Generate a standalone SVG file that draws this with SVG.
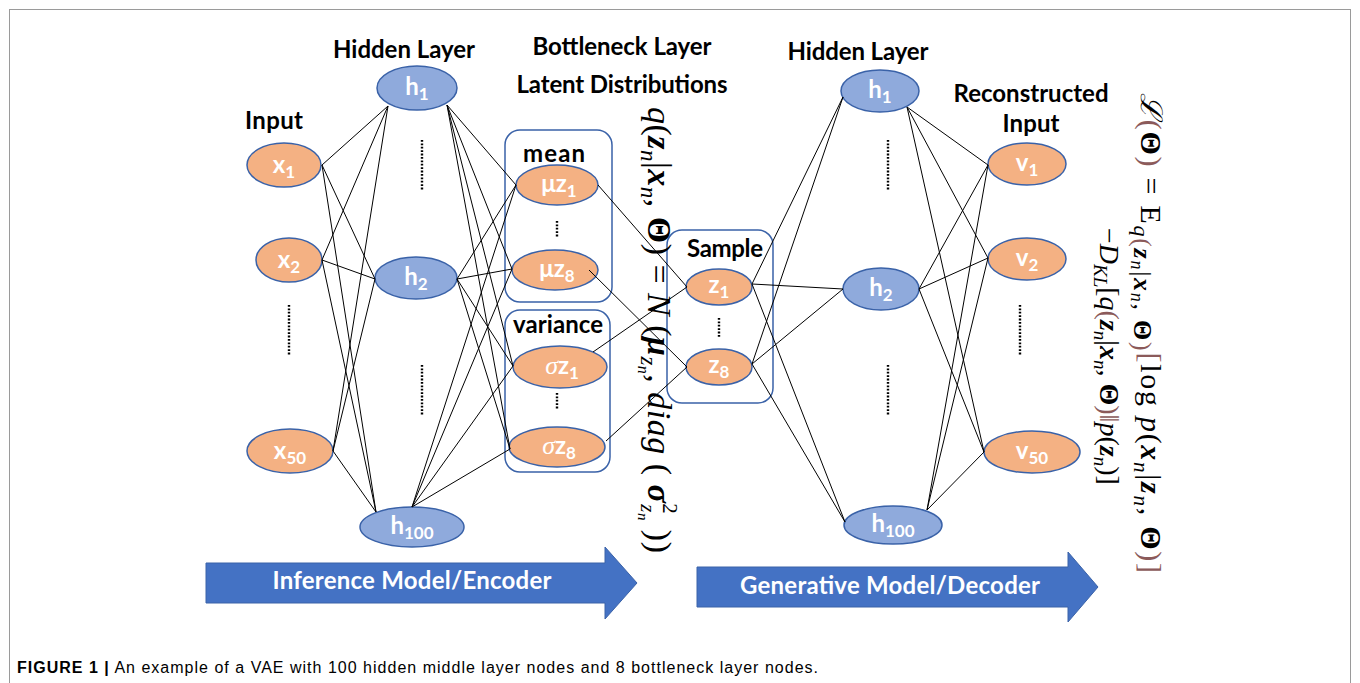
<svg xmlns="http://www.w3.org/2000/svg" width="1360" height="683" viewBox="0 0 1360 683">
<style>
.on{fill:#F4B183;stroke:#3A62A8;stroke-width:1.5}
.bn{fill:#8FAADC;stroke:#3A62A8;stroke-width:1.5}
.lbl{font-family:Lato,'Liberation Sans',sans-serif;font-weight:700;font-size:24px;fill:#fff;text-anchor:middle}
.sub{font-size:17px}
.ttl{font-family:Lato,'Liberation Sans',sans-serif;font-weight:700;font-size:24px;fill:#000;text-anchor:middle}
.box{fill:none;stroke:#3A62A8;stroke-width:1.5}
.dots{stroke:#000;stroke-width:2.4;stroke-dasharray:1.8 1.6;fill:none}
.conn line{stroke:#000;stroke-width:1}
.math{font-family:'Liberation Serif','DejaVu Serif',serif;fill:#000}
.br{fill:#8B5A5A}
.b{font-weight:bold}
.i{font-style:italic}
.arrow{fill:#4472C4;stroke:#3A62A8;stroke-width:1}
.atxt{font-family:Lato,'Liberation Sans',sans-serif;font-weight:700;font-size:24px;fill:#fff;text-anchor:middle}
</style>
<rect x="0" y="0" width="1360" height="683" fill="#fff"/>
<rect x="9.5" y="9.5" width="1341" height="690" fill="none" stroke="#9a9a9a" stroke-width="1"/>

<!-- titles -->
<text class="ttl" x="404" y="58" textLength="142">Hidden Layer</text>
<text class="ttl" x="622" y="55" textLength="179">Bottleneck Layer</text>
<text class="ttl" x="622" y="93" textLength="211">Latent Distributions</text>
<text class="ttl" x="274" y="129" textLength="58">Input</text>
<text class="ttl" x="858" y="60" textLength="141">Hidden Layer</text>
<text class="ttl" x="1031" y="102" textLength="155">Reconstructed</text>
<text class="ttl" x="1031" y="132" textLength="57">Input</text>

<!-- boxes -->
<g id="mean-box">
<rect class="box" x="505" y="130" width="107" height="172" rx="15"/>
<text class="ttl" x="554" y="162" textLength="62">mean</text>
<line class="dots" x1="557" y1="221" x2="557" y2="238"/>
</g>
<g id="variance-box">
<rect class="box" x="505" y="310" width="105" height="162" rx="15"/>
<text class="ttl" x="558" y="333" textLength="90">variance</text>
<line class="dots" x1="557" y1="393" x2="557" y2="410"/>
</g>
<g id="sample-box">
<rect class="box" x="667" y="230" width="106" height="173" rx="15"/>
<text class="ttl" x="725" y="257" textLength="76">Sample</text>
<line class="dots" x1="719" y1="318" x2="719" y2="337"/>
</g>

<!-- dotted column markers -->
<g id="ellipsis-markers">
<line class="dots" x1="289" y1="305" x2="289" y2="355"/>
<line class="dots" x1="422" y1="140" x2="422" y2="190"/>
<line class="dots" x1="422" y1="365" x2="422" y2="415"/>
<line class="dots" x1="888" y1="140" x2="888" y2="190"/>
<line class="dots" x1="888" y1="365" x2="888" y2="415"/>
<line class="dots" x1="1020" y1="305" x2="1020" y2="355"/>
</g>

<!-- nodes -->
<g id="x1"><ellipse class="on" cx="284" cy="165" rx="37" ry="22"/><text class="lbl" x="284" y="173">x<tspan class="sub" dy="5">1</tspan></text></g>
<g id="x2"><ellipse class="on" cx="289" cy="260" rx="33" ry="22"/><text class="lbl" x="289" y="268">x<tspan class="sub" dy="5">2</tspan></text></g>
<g id="x50"><ellipse class="on" cx="290" cy="451" rx="43" ry="22"/><text class="lbl" x="290" y="459">x<tspan class="sub" dy="5">50</tspan></text></g>

<g id="h1-enc"><ellipse class="bn" cx="417" cy="88" rx="40" ry="22"/><text class="lbl" x="417" y="95">h<tspan class="sub" dy="5">1</tspan></text></g>
<g id="h2-enc"><ellipse class="bn" cx="416" cy="278" rx="41" ry="21"/><text class="lbl" x="416" y="285">h<tspan class="sub" dy="5">2</tspan></text></g>
<g id="h100-enc"><ellipse class="bn" cx="412" cy="527" rx="52" ry="20"/><text class="lbl" x="412" y="534">h<tspan class="sub" dy="5">100</tspan></text></g>

<g id="mu-z1"><ellipse class="on" cx="557" cy="185" rx="41" ry="20"/><text class="lbl" x="559" y="192">μz<tspan class="sub" dy="5">1</tspan></text></g>
<g id="mu-z8"><ellipse class="on" cx="555" cy="270" rx="43" ry="20"/><text class="lbl" x="557" y="277">μz<tspan class="sub" dy="5">8</tspan></text></g>
<g id="sigma-z1"><ellipse class="on" cx="560" cy="367" rx="47" ry="21"/><text class="lbl" x="562" y="374"><tspan font-family="'Liberation Serif',serif" font-style="italic" font-weight="400" font-size="26">σ</tspan>z<tspan class="sub" dy="5">1</tspan></text></g>
<g id="sigma-z8"><ellipse class="on" cx="557" cy="447" rx="48" ry="20"/><text class="lbl" x="559" y="454"><tspan font-family="'Liberation Serif',serif" font-style="italic" font-weight="400" font-size="26">σ</tspan>z<tspan class="sub" dy="5">8</tspan></text></g>

<g id="z1"><ellipse class="on" cx="719" cy="287" rx="33" ry="18"/><text class="lbl" x="719" y="293">z<tspan class="sub" dy="5">1</tspan></text></g>
<g id="z8"><ellipse class="on" cx="719" cy="367" rx="33" ry="18"/><text class="lbl" x="719" y="373">z<tspan class="sub" dy="5">8</tspan></text></g>

<g id="h1-dec"><ellipse class="bn" cx="880" cy="91" rx="39" ry="21"/><text class="lbl" x="880" y="98">h<tspan class="sub" dy="5">1</tspan></text></g>
<g id="h2-dec"><ellipse class="bn" cx="881" cy="289" rx="38" ry="21"/><text class="lbl" x="881" y="296">h<tspan class="sub" dy="5">2</tspan></text></g>
<g id="h100-dec"><ellipse class="bn" cx="893" cy="525" rx="49" ry="19"/><text class="lbl" x="893" y="532">h<tspan class="sub" dy="5">100</tspan></text></g>

<g id="v1"><ellipse class="on" cx="1027" cy="164" rx="39" ry="21"/><text class="lbl" x="1027" y="171">v<tspan class="sub" dy="5">1</tspan></text></g>
<g id="v2"><ellipse class="on" cx="1027" cy="259" rx="39" ry="21"/><text class="lbl" x="1027" y="266">v<tspan class="sub" dy="5">2</tspan></text></g>
<g id="v50"><ellipse class="on" cx="1032" cy="452" rx="48" ry="21"/><text class="lbl" x="1032" y="459">v<tspan class="sub" dy="5">50</tspan></text></g>

<!-- connectors -->
<g id="connectors" class="conn">
<line x1="322" y1="165" x2="388" y2="106"/>
<line x1="322" y1="165" x2="375" y2="279"/>
<line x1="322" y1="165" x2="376" y2="512"/>
<line x1="322" y1="260" x2="388" y2="106"/>
<line x1="322" y1="260" x2="375" y2="279"/>
<line x1="322" y1="260" x2="376" y2="512"/>
<line x1="333" y1="451" x2="388" y2="106"/>
<line x1="333" y1="451" x2="375" y2="279"/>
<line x1="333" y1="451" x2="376" y2="512"/>

<line x1="447" y1="105" x2="516" y2="185"/>
<line x1="447" y1="105" x2="512" y2="269"/>
<line x1="447" y1="105" x2="513" y2="366"/>
<line x1="447" y1="105" x2="510" y2="449"/>
<line x1="457" y1="279" x2="516" y2="185"/>
<line x1="457" y1="279" x2="512" y2="269"/>
<line x1="457" y1="279" x2="513" y2="366"/>
<line x1="457" y1="279" x2="510" y2="449"/>
<line x1="412" y1="507" x2="516" y2="185"/>
<line x1="412" y1="507" x2="512" y2="269"/>
<line x1="412" y1="507" x2="513" y2="366"/>
<line x1="412" y1="507" x2="510" y2="449"/>

<line x1="598" y1="185" x2="687" y2="287"/>
<line x1="589" y1="270" x2="687" y2="367"/>
<line x1="593" y1="352" x2="687" y2="287"/>
<line x1="606" y1="441" x2="687" y2="367"/>

<line x1="752" y1="284" x2="843" y2="97"/>
<line x1="752" y1="284" x2="843" y2="289"/>
<line x1="752" y1="284" x2="845" y2="522"/>
<line x1="752" y1="364" x2="843" y2="97"/>
<line x1="752" y1="364" x2="843" y2="289"/>
<line x1="752" y1="364" x2="845" y2="522"/>

<line x1="907" y1="107" x2="988" y2="165"/>
<line x1="907" y1="107" x2="988" y2="258"/>
<line x1="907" y1="107" x2="984" y2="452"/>
<line x1="919" y1="289" x2="988" y2="165"/>
<line x1="919" y1="289" x2="988" y2="258"/>
<line x1="919" y1="289" x2="984" y2="452"/>
<line x1="927" y1="510" x2="988" y2="165"/>
<line x1="927" y1="510" x2="988" y2="258"/>
<line x1="927" y1="510" x2="984" y2="452"/>
</g>

<!-- formulas -->
<text class="math" font-size="34" transform="translate(648,107) rotate(90)" textLength="446"><tspan class="i">q</tspan>(<tspan class="b i">z</tspan><tspan class="i" font-size="23" dy="7">n</tspan><tspan dy="-7">|</tspan><tspan class="b i">x</tspan><tspan class="i" font-size="23" dy="7">n</tspan><tspan dy="-7">, </tspan><tspan class="b">Θ</tspan>) = <tspan class="i">N</tspan> (<tspan class="b i">μ</tspan><tspan class="i" font-size="23" dy="7">z</tspan><tspan class="i" font-size="16" dy="3">n</tspan><tspan dy="-10">, </tspan><tspan class="i">diag</tspan> ( <tspan class="b i">σ</tspan><tspan font-size="21" dy="-15">2</tspan><tspan class="i" font-size="21" dx="-10" dy="22">z</tspan><tspan class="i" font-size="15" dy="3">n</tspan><tspan dy="-10"> ))</tspan></text>

<text class="math" font-size="30" transform="translate(1141,93) rotate(90)" textLength="480"><tspan class="i">ℒ</tspan><tspan class="br">(</tspan><tspan class="b">Θ</tspan><tspan class="br">)</tspan> = E<tspan class="i" font-size="22" dy="7">q</tspan><tspan class="br" font-size="26">(</tspan><tspan class="b i" font-size="26">z</tspan><tspan class="i" font-size="18" dy="3">n</tspan><tspan font-size="26" dy="-3">|</tspan><tspan class="b i" font-size="26">x</tspan><tspan class="i" font-size="18" dy="3">n</tspan><tspan font-size="26" dy="-3">, </tspan><tspan class="b" font-size="26">Θ</tspan><tspan class="br" font-size="26">)</tspan><tspan class="br" dy="-7">[</tspan>log <tspan class="i">p</tspan>(<tspan class="b i">x</tspan><tspan class="i" font-size="21" dy="7">n</tspan><tspan dy="-7">|</tspan><tspan class="b i">z</tspan><tspan class="i" font-size="21" dy="7">n</tspan><tspan dy="-7">, </tspan><tspan class="b">Θ</tspan><tspan class="br">)]</tspan></text>

<text class="math" font-size="28" transform="translate(1100,228) rotate(90)">−<tspan class="i">D</tspan><tspan class="i" font-size="19" dy="6">KL</tspan><tspan dy="-6">[</tspan><tspan class="i">q</tspan><tspan class="br">(</tspan><tspan class="b i">z</tspan><tspan class="i" font-size="19" dy="6">n</tspan><tspan dy="-6">|</tspan><tspan class="b i">x</tspan><tspan class="i" font-size="19" dy="6">n</tspan><tspan dy="-6">, </tspan><tspan class="b">Θ</tspan><tspan class="br">)‖</tspan><tspan class="i">p</tspan>(<tspan class="b i">z</tspan><tspan class="i" font-size="19" dy="6">n</tspan><tspan dy="-6">)]</tspan></text>

<!-- arrows -->
<g id="encoder-arrow">
<polygon class="arrow" points="206,563 605,563 605,547 637,583 605,619 605,603 206,603"/>
<text class="atxt" x="412" y="589" textLength="279">Inference Model/Encoder</text>
</g>
<g id="decoder-arrow">
<polygon class="arrow" points="697,567 1068,567 1068,552 1098,587 1068,622 1068,607 697,607"/>
<text class="atxt" x="890" y="594" textLength="300">Generative Model/Decoder</text>
</g>

<text x="17" y="673" font-family="'Liberation Sans',Arial,sans-serif" font-size="16" fill="#000" textLength="801"><tspan font-weight="bold">FIGURE 1 |</tspan> An example of a VAE with 100 hidden middle layer nodes and 8 bottleneck layer nodes.</text>
</svg>
